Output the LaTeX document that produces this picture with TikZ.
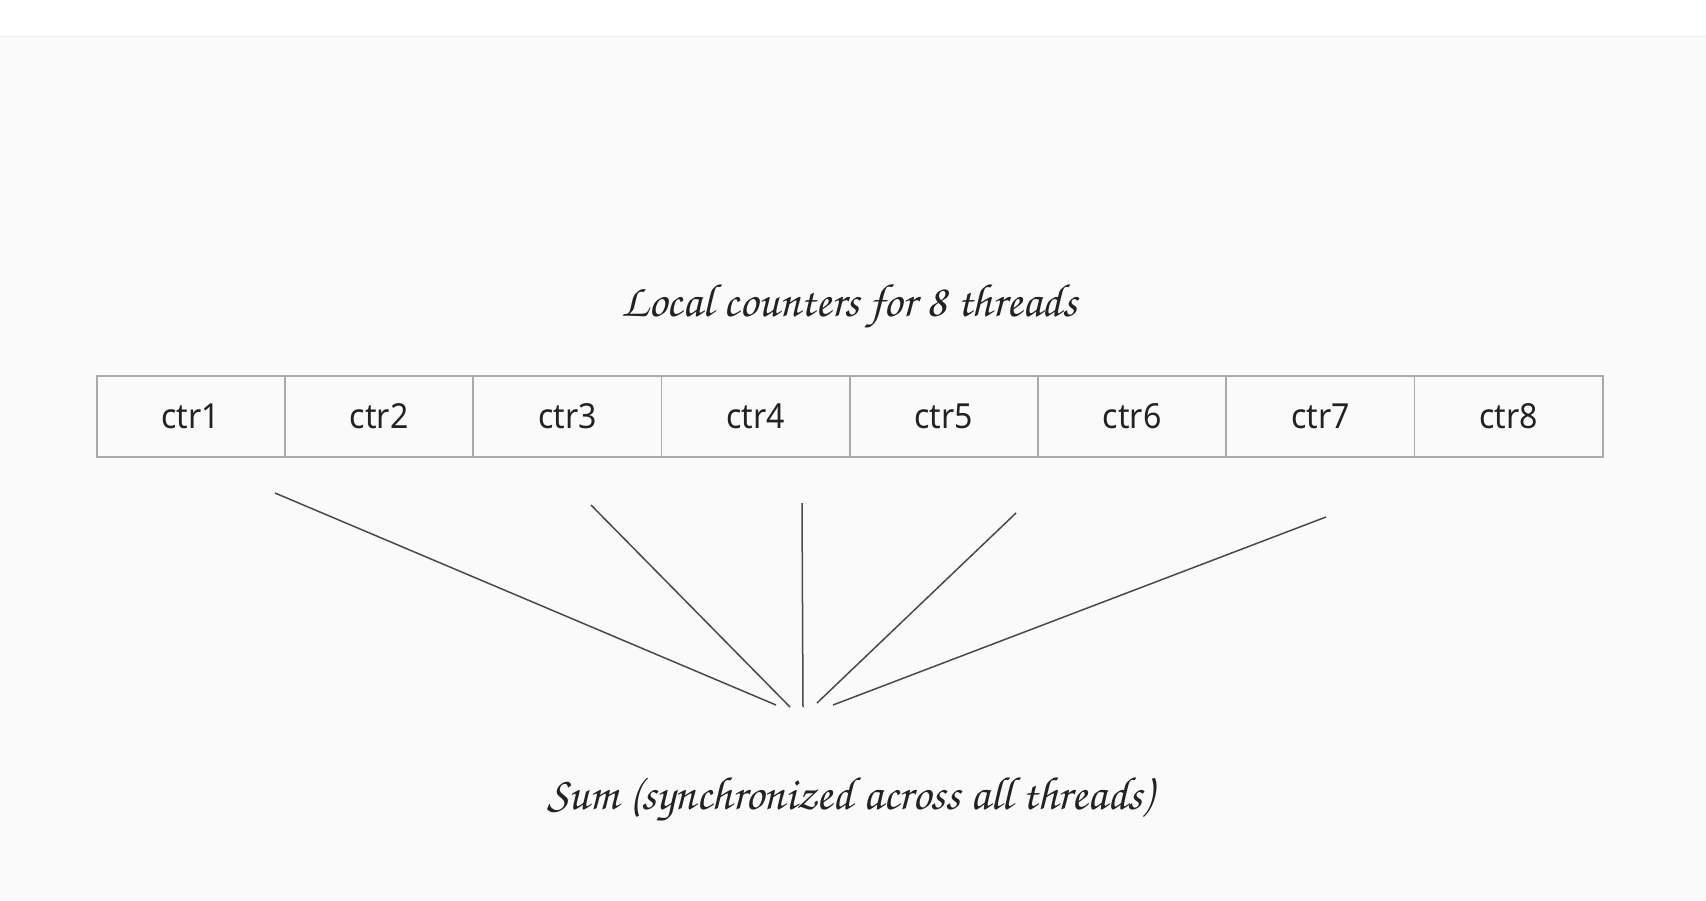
\documentclass[tikz,border=0pt]{standalone}
\usepackage{fontspec}
\setmainfont{Noto Sans}
\newfontfamily\ctrfont[FakeStretch=0.93]{Noto Sans}
\newfontfamily\handfont{texgyrechorus-mediumitalic.otf}
\definecolor{bgpage}{HTML}{FAFAFA}
\definecolor{cellline}{HTML}{AAAAAA}
\definecolor{fanline}{HTML}{4A4A4A}
\definecolor{inktext}{HTML}{222222}
\tikzset{
  cell/.style={draw=cellline, line width=1.6pt, minimum width=188.25pt, minimum height=81pt,
    inner sep=0pt, outer sep=0pt, text=inktext, font=\ctrfont\fontsize{34.5}{40}\selectfont},
  hand/.style={text=inktext, inner sep=0pt, font=\handfont\fontsize{46.6}{52}\selectfont},
  fan/.style={draw=fanline, line width=1.5pt}
}
\begin{document}
\begin{tikzpicture}[x=1pt,y=-1pt]
\useasboundingbox (0,0) rectangle (1706,900);
\fill[white] (0,0) rectangle (1706,36);
\fill[bgpage] (0,36) rectangle (1706,900);
\draw[color=black!7, line width=1pt] (0,36) -- (1706,36);

\node[hand] (title) at (849,306) {Local counters for 8 threads};

\foreach \i in {1,...,8}{
  \node[cell] (c\i) at ({96.7+188.25*(\i-0.5)},416.5) {ctr\i};
}

\node[hand] (sum) at (850,799) {Sum (synchronized across all threads)};

\coordinate (s1) at (275,493);
\coordinate (s2) at (591,505);
\coordinate (s3) at (802,503);
\coordinate (s4) at (1016,513);
\coordinate (s5) at (1326,517);
\coordinate (e1) at (776,705);
\coordinate (e2) at (790,707);
\coordinate (e3) at (803,707);
\coordinate (e4) at (817,703);
\coordinate (e5) at (833,705);
\foreach \k in {1,...,5}{
  \draw[fan] (s\k) -- (e\k);
}
\end{tikzpicture}
\end{document}
